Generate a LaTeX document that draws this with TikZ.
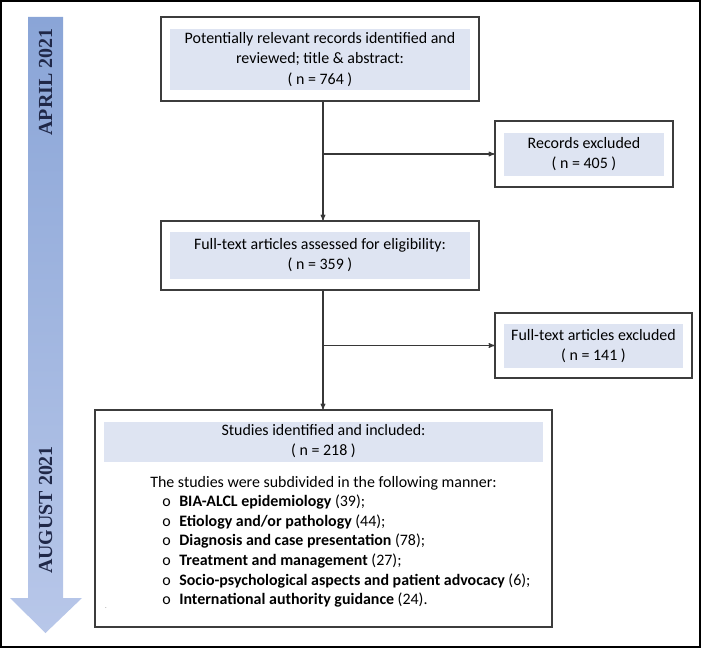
\documentclass[tikz,border=0pt]{standalone}
\usepackage{fontspec}
\setmainfont{Carlito}
\newfontfamily\datefont{Liberation Serif}
\usepackage{tikz}
\usetikzlibrary{arrows}
\definecolor{frame_gray}{RGB}{60,60,60}
\definecolor{line_gray}{RGB}{55,55,55}
\definecolor{panel_blue}{RGB}{222,228,242}
\definecolor{band_top}{RGB}{138,165,215}
\definecolor{band_bot}{RGB}{184,199,233}
\definecolor{date_text}{RGB}{32,40,72}

\begin{document}
\begin{tikzpicture}[->,semithick,>=stealth',x=1bp,y=-1bp]
    \tikzstyle{frame}=[draw=frame_gray, line width=1.2bp, rectangle, inner sep=0pt, fill=white]
    \tikzstyle{panel}=[fill=panel_blue, rectangle, inner sep=0pt, text=black, align=center, font=\fontsize{16}{20}\selectfont]
    \tikzstyle{datelabel}=[text=date_text, rotate=90, inner sep=0pt, font=\datefont\bfseries\fontsize{20}{20}\selectfont]

    \useasboundingbox (0,0) rectangle (701,648);
    \draw[-,black,line width=2bp] (1,1) rectangle (700,647);

    % time band
    \shade[top color=band_top, bottom color=band_bot]
      (28,17) -- (63,17) -- (63,598) -- (82,598) -- (45.5,633) -- (10,598) -- (28,598) -- cycle;
    \node[datelabel] (april) at (45.5,82) {APRIL 2021};
    \node[datelabel] (august) at (45.5,510) {AUGUST 2021};

    \node[frame, minimum width=318bp, minimum height=84bp] (rec) at (320,59) {};
    \node[panel, minimum width=300bp, minimum height=61bp, font=\fontsize{16}{21}\selectfont] (recIn) at (320,59.5)
      {Potentially relevant records identified and\\ reviewed; title \& abstract:\\ ( n = 764 )};

    \node[frame, minimum width=178bp, minimum height=66bp] (excl) at (584,154) {};
    \node[panel, minimum width=160bp, minimum height=43bp] (exclIn) at (584,154.5)
      {Records excluded\\ ( n = 405 )};

    \node[frame, minimum width=318bp, minimum height=69bp] (asm) at (320,255.5) {};
    \node[panel, minimum width=300bp, minimum height=47bp] (asmIn) at (320,255.5)
      {Full-text articles assessed for eligibility:\\ ( n = 359 )};

    \node[frame, minimum width=197bp, minimum height=65bp] (exclft) at (593.5,345.5) {};
    \node[panel, minimum width=179bp, minimum height=44bp] (exclftIn) at (593.5,346)
      {Full-text articles excluded\\ ( n = 141 )};

    \node[frame, minimum width=457bp, minimum height=217bp] (incl) at (323.5,518.5) {};
    \node[panel, minimum width=439bp, minimum height=40bp] (inclIn) at (323.5,441.5)
      {Studies identified and included:\\ ( n = 218 )};
    \node[anchor=north west, inner sep=0pt, align=left, font=\fontsize{16}{19.6}\selectfont] (subs) at (150,476)
      {The studies were subdivided in the following manner:\\
       \makebox[29bp][l]{\hspace{12bp}o}\textbf{BIA-ALCL epidemiology} (39);\\
       \makebox[29bp][l]{\hspace{12bp}o}\textbf{Etiology and/or pathology} (44);\\
       \makebox[29bp][l]{\hspace{12bp}o}\textbf{Diagnosis and case presentation} (78);\\
       \makebox[29bp][l]{\hspace{12bp}o}\textbf{Treatment and management} (27);\\
       \makebox[29bp][l]{\hspace{12bp}o}\textbf{Socio-psychological aspects and patient advocacy} (6);\\
       \makebox[29bp][l]{\hspace{12bp}o}\textbf{International authority guidance} (24).};
    \node[inner sep=0pt, font=\tiny] (speck) at (106,608) {.};

    \coordinate (fork1) at (323,154);
    \coordinate (fork2) at (323,345.5);
    \path[every edge/.append style={draw=line_gray, line width=1.1bp}]
     (rec.south -| fork1) edge (asm.north -| fork1)
     (fork1) edge (excl.west)
     (asm.south -| fork1) edge (incl.north -| fork1)
     (fork2) edge (exclft.west);
\end{tikzpicture}
\end{document}
